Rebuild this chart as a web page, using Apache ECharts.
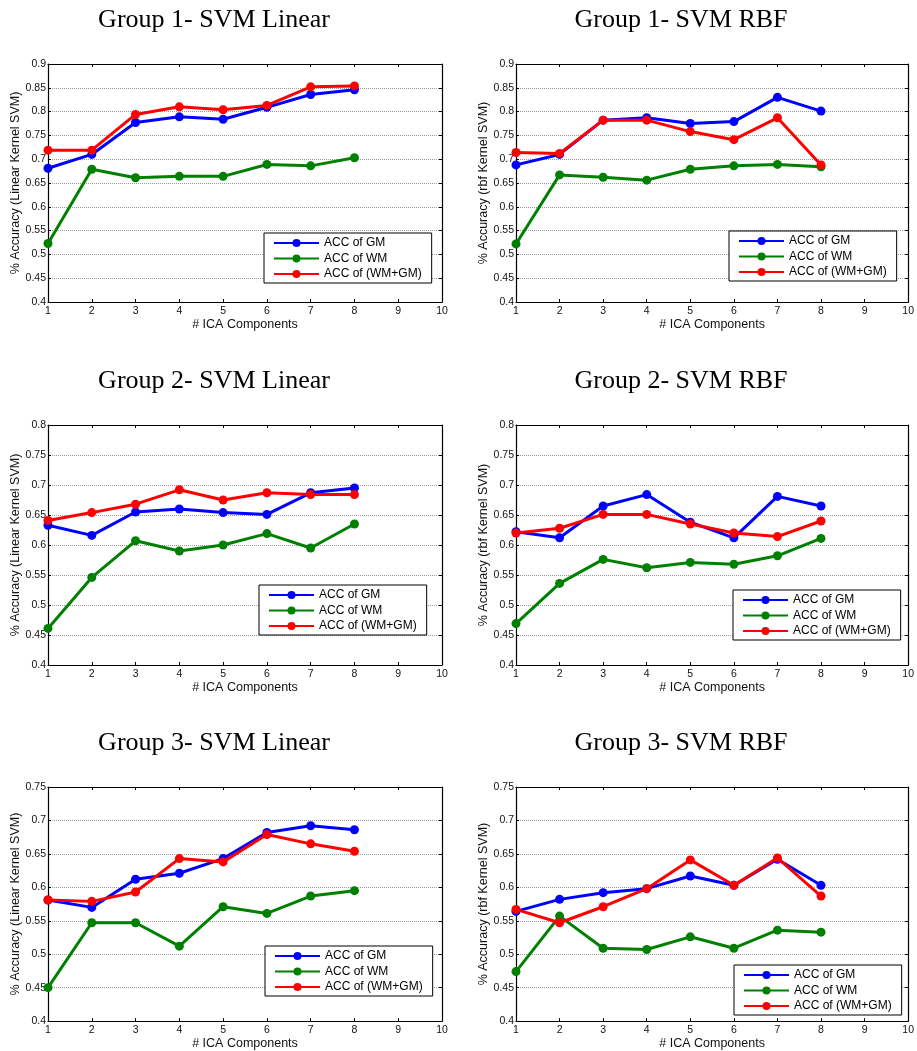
<!DOCTYPE html>
<html><head><meta charset="utf-8">
<script src="https://cdn.jsdelivr.net/npm/echarts@6/dist/echarts.min.js"></script>
<style>html,body{margin:0;padding:0;background:#fff}#c{width:917px;height:1051px}</style>
</head><body><div id="c"></div>
<script>
// ---- data ----
const xValues = [1, 2, 3, 4, 5, 6, 7, 8];
const seriesNames = ['ACC of GM', 'ACC of WM', 'ACC of (WM+GM)'];
const panelTitles = ['Group 1- SVM Linear', 'Group 1- SVM RBF', 'Group 2- SVM Linear', 'Group 2- SVM RBF', 'Group 3- SVM Linear', 'Group 3- SVM RBF'];
const yAxisNames = ['% Accuracy (Linear Kernel SVM)', '% Accuracy (rbf Kernel SVM)'];
const xAxisName = '# ICA Components';
const yMaxValues = [0.9, 0.9, 0.8, 0.8, 0.75, 0.75];

const g1LinearGM = [0.681, 0.710, 0.777, 0.789, 0.784, 0.809, 0.836, 0.846];
const g1LinearWM = [0.523, 0.679, 0.661, 0.664, 0.664, 0.689, 0.686, 0.703];
const g1LinearWMGM = [0.719, 0.719, 0.794, 0.810, 0.804, 0.813, 0.852, 0.854];

const g1RbfGM = [0.688, 0.710, 0.782, 0.787, 0.775, 0.779, 0.830, 0.801];
const g1RbfWM = [0.522, 0.667, 0.662, 0.656, 0.679, 0.686, 0.689, 0.684];
const g1RbfWMGM = [0.714, 0.712, 0.782, 0.782, 0.758, 0.741, 0.787, 0.688];

const g2LinearGM = [0.633, 0.616, 0.655, 0.660, 0.654, 0.651, 0.687, 0.695];
const g2LinearWM = [0.461, 0.546, 0.607, 0.590, 0.600, 0.619, 0.595, 0.635];
const g2LinearWMGM = [0.641, 0.654, 0.668, 0.692, 0.675, 0.687, 0.684, 0.684];

const g2RbfGM = [0.622, 0.612, 0.665, 0.684, 0.638, 0.612, 0.681, 0.665];
const g2RbfWM = [0.469, 0.536, 0.576, 0.562, 0.571, 0.568, 0.582, 0.611];
const g2RbfWMGM = [0.620, 0.628, 0.651, 0.651, 0.635, 0.620, 0.614, 0.640];

const g3LinearGM = [0.581, 0.570, 0.612, 0.621, 0.643, 0.682, 0.692, 0.686];
const g3LinearWM = [0.450, 0.547, 0.547, 0.512, 0.571, 0.561, 0.587, 0.595];
const g3LinearWMGM = [0.581, 0.579, 0.593, 0.643, 0.638, 0.679, 0.665, 0.654];

const g3RbfGM = [0.564, 0.582, 0.592, 0.598, 0.617, 0.603, 0.642, 0.603];
const g3RbfWM = [0.474, 0.557, 0.509, 0.507, 0.526, 0.509, 0.536, 0.533];
const g3RbfWMGM = [0.567, 0.547, 0.571, 0.598, 0.641, 0.603, 0.644, 0.587];

// ---- layout ----
const panelData = [
  [g1LinearGM, g1LinearWM, g1LinearWMGM],
  [g1RbfGM, g1RbfWM, g1RbfWMGM],
  [g2LinearGM, g2LinearWM, g2LinearWMGM],
  [g2RbfGM, g2RbfWM, g2RbfWMGM],
  [g3LinearGM, g3LinearWM, g3LinearWMGM],
  [g3RbfGM, g3RbfWM, g3RbfWMGM]
];
const colors = ['#0000ff', '#008000', '#ff0000'];
const grids = [
  {left: 48, top: 64, width: 394, height: 238},
  {left: 516, top: 64, width: 396, height: 238},
  {left: 48, top: 425, width: 394, height: 240},
  {left: 516, top: 425, width: 396, height: 240},
  {left: 48, top: 787, width: 394, height: 240},
  {left: 516, top: 787, width: 396, height: 240}
];
const legendPos = [
  {left: 264, top: 233}, {left: 729, top: 231},
  {left: 259, top: 585}, {left: 733, top: 590},
  {left: 265, top: 946}, {left: 734, top: 965}
];
const titlePos = [
  {x: 214, y: 7}, {x: 681, y: 7},
  {x: 214, y: 368}, {x: 681, y: 368},
  {x: 214, y: 730}, {x: 681, y: 730}
];

const SANS = 'Liberation Sans, Arial, sans-serif';
const xAxes = [], yAxes = [], series = [], legends = [], graphics = [];
panelData.forEach((sets, i) => {
  const tick = {show: true, inside: true, length: 3, lineStyle: {color: '#000', width: 1}};
  const line = {show: true, lineStyle: {color: '#000', width: 1.2}};
  xAxes.push({
    type: 'value', gridIndex: i, position: 'bottom', min: 1, max: 10, interval: 1,
    axisLine: line, axisTick: tick, splitLine: {show: false},
    axisLabel: {fontSize: 10.5, color: '#111', fontFamily: SANS, margin: 4},
    name: xAxisName, nameLocation: 'middle', nameGap: 13,
    nameTextStyle: {fontSize: 12.5, color: '#111', fontFamily: SANS}
  });
  xAxes.push({
    type: 'value', gridIndex: i, position: 'top', min: 1, max: 10, interval: 1,
    axisLine: line, axisTick: tick, splitLine: {show: false}, axisLabel: {show: false}
  });
  yAxes.push({
    type: 'value', gridIndex: i, position: 'left', min: 0.4, max: yMaxValues[i], interval: 0.05,
    axisLine: line, axisTick: tick,
    splitLine: {show: true, lineStyle: {type: 'dotted', color: '#9a9a9a', width: 1}},
    axisLabel: {fontSize: 10.5, color: '#111', fontFamily: SANS, margin: 2},
    name: yAxisNames[i % 2], nameLocation: 'middle', nameGap: 24,
    nameTextStyle: {fontSize: 12.5, color: '#111', fontFamily: SANS}
  });
  yAxes.push({
    type: 'value', gridIndex: i, position: 'right', min: 0.4, max: yMaxValues[i], interval: 0.05,
    axisLine: line, axisTick: tick, splitLine: {show: false}, axisLabel: {show: false}
  });
  sets.forEach((vals, k) => {
    series.push({
      type: 'line', name: seriesNames[k], xAxisIndex: 2 * i, yAxisIndex: 2 * i,
      data: xValues.map((x, j) => [x, vals[j]]),
      symbol: 'circle', symbolSize: 9, showSymbol: true,
      lineStyle: {color: colors[k], width: 3},
      itemStyle: {color: colors[k]},
      animation: false, z: 3 + k
    });
  });
  legends.push({
    data: seriesNames, orient: 'vertical', left: legendPos[i].left, top: legendPos[i].top,
    backgroundColor: '#fff', borderColor: '#000', borderWidth: 1, borderRadius: 0,
    padding: [4, 10, 3, 9], itemWidth: 45, itemHeight: 10, itemGap: 3.5,
    textStyle: {fontSize: 12, color: '#000', fontFamily: SANS, padding: [0, 0, 0, 0]},
    selectedMode: false
  });
  graphics.push({
    type: 'text', x: titlePos[i].x, y: titlePos[i].y,
    style: {text: panelTitles[i], fill: '#000', font: '26px "Liberation Serif", "Times New Roman", serif', align: 'center', verticalAlign: 'top'}
  });
});

const chart = echarts.init(document.getElementById('c'), null, {renderer: 'canvas'});
chart.setOption({
  backgroundColor: '#fff',
  animation: false,
  grid: grids.map(g => Object.assign({containLabel: false}, g)),
  xAxis: xAxes, yAxis: yAxes, series: series, legend: legends, graphic: graphics
});
</script></body></html>
